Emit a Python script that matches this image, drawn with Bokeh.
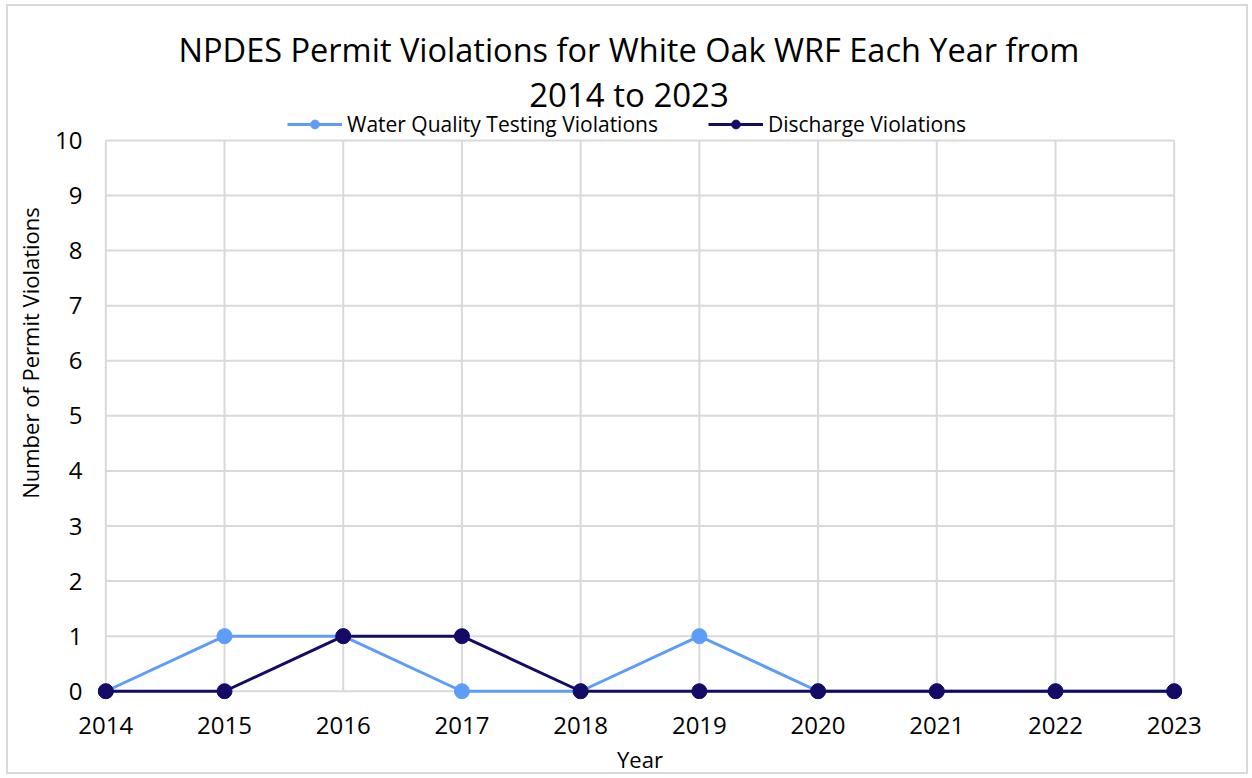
from bokeh.plotting import figure
from bokeh.models import Range1d, FixedTicker, Legend, LegendItem, Label
from bokeh.embed import file_html
from bokeh.resources import INLINE

years = [2014, 2015, 2016, 2017, 2018, 2019, 2020, 2021, 2022, 2023]
water_quality = [0, 1, 1, 0, 0, 1, 0, 0, 0, 0]
discharge = [0, 0, 1, 1, 0, 0, 0, 0, 0, 0]
y_ticks = list(range(0, 11))
title_lines = ["NPDES Permit Violations for White Oak WRF Each Year from", "2014 to 2023"]

FONT = "Open Sans"
LIGHT = "#5f9cf8"
DARK = "#130b66"
GRID = "#d9d9d9"

W, H = 1242, 770
# frame spans the full height above the axis so that title/legend labels are not clipped
p = figure(width=W, height=H, output_backend="svg", toolbar_location=None,
           x_range=Range1d(years[0] - 0.07, years[-1] + 0.07),
           y_range=Range1d(y_ticks[0] - 0.15, y_ticks[-1] + 2.432),
           min_border_left=89, min_border_right=68, min_border_top=0, min_border_bottom=77)
p.title.text = ""
p.title.visible = False
p.outline_line_color = None
p.styles = {"border": "2px solid #d9d9d9", "margin-left": "6px", "margin-top": "4px"}
p.xgrid.visible = False
p.ygrid.visible = False

p.xaxis.ticker = FixedTicker(ticks=years)
p.yaxis.ticker = FixedTicker(ticks=y_ticks)
p.yaxis.bounds = (y_ticks[0], y_ticks[-1])
for ax in (p.xaxis[0], p.yaxis[0]):
    ax.axis_line_color = None
    ax.major_tick_line_color = None
    ax.minor_tick_line_color = None
    ax.major_label_text_font = FONT
    ax.major_label_text_font_size = "24px"
    ax.major_label_text_color = "#000000"
    ax.axis_label_text_font = FONT
    ax.axis_label_text_font_size = "22px"
    ax.axis_label_text_font_style = "normal"
    ax.axis_label_text_color = "#000000"
p.xaxis.major_label_standoff = 11
p.yaxis.major_label_standoff = 9
p.xaxis.axis_label = "Year"
p.yaxis.axis_label = "Number of Permit Violations"
p.xaxis.axis_label_standoff = 7
p.yaxis.axis_label_standoff = 7

# gridlines spanning exactly the category / value extent
p.segment(x0=[years[0]] * len(y_ticks), x1=[years[-1]] * len(y_ticks), y0=y_ticks, y1=y_ticks,
          line_color=GRID, line_width=2)
p.segment(x0=years, x1=years, y0=[y_ticks[0]] * len(years), y1=[y_ticks[-1]] * len(years),
          line_color=GRID, line_width=2)

l1 = p.line(years, water_quality, line_color=LIGHT, line_width=3)
s1 = p.scatter(years, water_quality, size=15, fill_color=LIGHT, line_color=LIGHT)
l2 = p.line(years, discharge, line_color=DARK, line_width=3)
s2 = p.scatter(years, discharge, size=15, fill_color=DARK, line_color=DARK)

legend = Legend(items=[LegendItem(label="Water Quality Testing Violations", renderers=[l1, s1]),
                       LegendItem(label="Discharge Violations", renderers=[l2, s2])],
                orientation="horizontal", location=(190, 561),
                border_line_color=None, background_fill_alpha=0,
                padding=0, margin=0, spacing=50, glyph_width=55, glyph_height=22,
                label_standoff=5, label_text_font=FONT, label_text_font_size="21px",
                label_text_color="#000000")
p.add_layout(legend, "center")

title_y = [650, 605]
title_sizes = ["32.5px", "33px"]
for t, ty, fs in zip(title_lines, title_y, title_sizes):
    p.add_layout(Label(x=531.5, y=ty, x_units="screen", y_units="screen",
                       text=t, text_font=FONT, text_font_size=fs, text_color="#000000",
                       text_align="center", text_baseline="middle"))

open("out.html", "w").write(file_html(p, INLINE))
